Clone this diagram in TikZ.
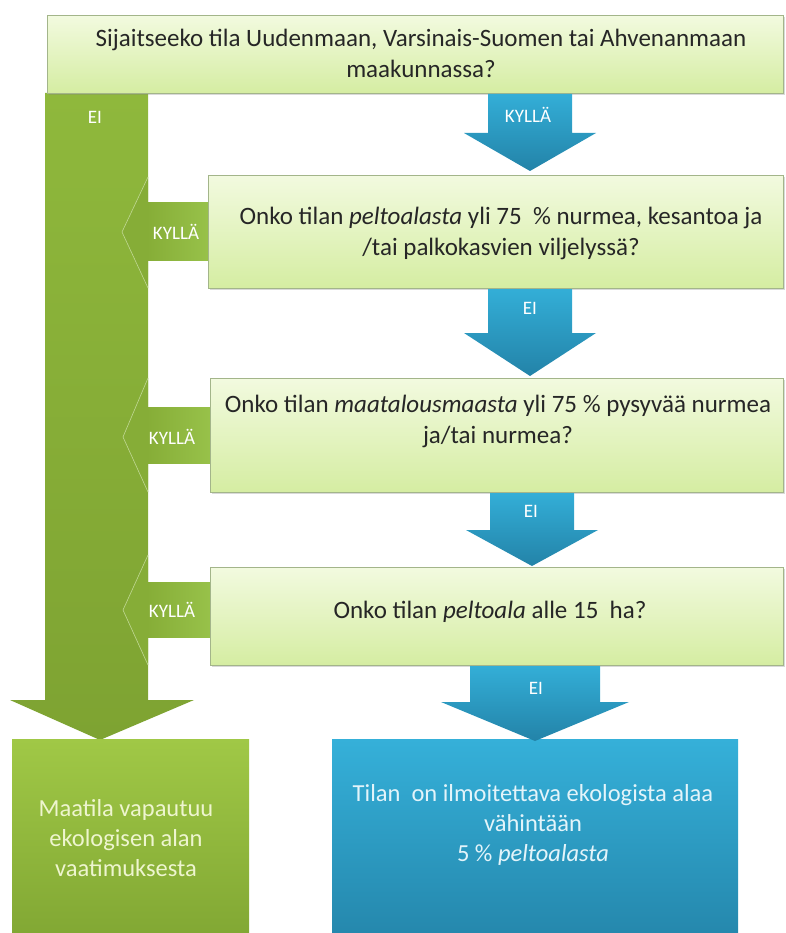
\documentclass[tikz,border=0pt]{standalone}
\usepackage{fontspec}
\setmainfont{Carlito}
\usetikzlibrary{shadows}
\definecolor{qtop}{HTML}{F2FADF}
\definecolor{qbot}{HTML}{D5EDA2}
\definecolor{qline}{HTML}{A3B58A}
\definecolor{gbar}{HTML}{8FB83C}
\definecolor{gbardk}{HTML}{7EA332}
\definecolor{gshaft}{HTML}{98C24A}
\definecolor{gchev}{HTML}{86AD37}
\definecolor{gtop}{HTML}{A0C846}
\definecolor{gbot}{HTML}{82A834}
\definecolor{btop}{HTML}{35B0D9}
\definecolor{bbot}{HTML}{2588AD}
\definecolor{atop}{HTML}{33AED7}
\definecolor{abot}{HTML}{2383A8}
\definecolor{qtext}{HTML}{262626}
\definecolor{gtext}{HTML}{EEF5CF}
\definecolor{btext}{HTML}{E3F4FA}
\tikzset{
  qbox/.style={draw=qline, line width=0.8pt, top color=qtop, bottom color=qbot,
     anchor=north west, inner sep=0pt,
     drop shadow={shadow xshift=1.5pt, shadow yshift=-2pt, opacity=0.3}},
  rbox/.style={anchor=north west, inner sep=0pt, draw=none},
  qtxt/.style={text=qtext, font=\fontsize{25}{31}\selectfont, align=center, inner sep=0pt},
  lbl/.style={text=white, font=\fontsize{19}{22}\selectfont, inner sep=0pt},
  rtxt/.style={font=\fontsize{24.5}{30}\selectfont, align=center, inner sep=0pt},
  bluearrow/.style={top color=atop, bottom color=abot, draw=none},
  greenbar/.style={top color=gbar, bottom color=gbardk, draw=none},
  gshaftst/.style={left color=gchev, right color=gshaft, draw=none},
  gchevst/.style={fill=gchev, draw=gbar!55!white, line width=0.6pt},
}
\begin{document}
\begin{tikzpicture}[x=1pt,y=-1pt]
\useasboundingbox (0,0) rectangle (785,933);
% green "EI" bar with arrow head
\path[greenbar] (45,93) -- (148,93) -- (148,700) -- (194,700) -- (100,740) -- (10,700) -- (45,700) -- cycle;
% KYLLA arrows into the bar
\path[gshaftst] (146,203) rectangle (210,260);
\path[gchevst] (148,177) -- (122,232) -- (148,288);
\path[gshaftst] (146,407) rectangle (212,463);
\path[gchevst] (148,378) -- (123,437) -- (148,492);
\path[gshaftst] (146,582) rectangle (212,637);
\path[gchevst] (148,555) -- (123,610) -- (148,665);
% result boxes
\node[rbox, top color=gtop, bottom color=gbot, minimum width=237pt, minimum height=194pt] (r1) at (12,739) {};
\node[rbox, top color=btop, bottom color=bbot, minimum width=406pt, minimum height=194pt] (r2) at (332,739) {};
% question boxes
\node[qbox, minimum width=736pt, minimum height=78pt] (q0) at (47,15) {};
\node[qbox, minimum width=575pt, minimum height=113pt] (q1) at (208,175) {};
\node[qbox, minimum width=573pt, minimum height=114pt] (q2) at (210,378) {};
\node[qbox, minimum width=573pt, minimum height=98pt] (q3) at (210,567) {};
% blue arrows
\path[bluearrow] (488,94) -- (572,94) -- (572,133) -- (596,133) -- (530,171) -- (464,133) -- (488,133) -- cycle;
\path[bluearrow] (488,289) -- (572,289) -- (572,333) -- (596,333) -- (530,376) -- (464,333) -- (488,333) -- cycle;
\path[bluearrow] (490,493) -- (574,493) -- (574,530) -- (598,530) -- (532,566) -- (466,530) -- (490,530) -- cycle;
\path[bluearrow] (470,666) -- (600,666) -- (600,702) -- (629,702) -- (535,741) -- (441,702) -- (470,702) -- cycle;
% texts
\node[qtxt] (t0) at (421,53) {Sijaitseeko tila Uudenmaan, Varsinais-Suomen tai Ahvenanmaan\\maakunnassa?};
\node[qtxt] (t1) at (501,233) {Onko tilan \textit{peltoalasta} yli 75\ \ \% nurmea, kesantoa ja\\/tai palkokasvien viljelyssä?};
\node[qtxt] (t2) at (498,421) {Onko tilan \textit{maatalousmaasta} yli 75 \% pysyvää nurmea\\ja/tai nurmea?};
\node[qtxt] (t3) at (490,612) {Onko tilan \textit{peltoala} alle 15\ \ ha?};
\node[rtxt, text=gtext] (t4) at (126,838) {Maatila vapautuu\\ekologisen alan\\vaatimuksesta};
\node[rtxt, text=btext] (t5) at (533,825) {Tilan\ \ on ilmoitettava ekologista alaa\\vähintään\\5 \% \textit{peltoalasta}};
% labels
\node[lbl] (l0) at (95,117) {EI};
\node[lbl] (l1) at (528,115) {KYLLÄ};
\node[lbl] (l2) at (176,232) {KYLLÄ};
\node[lbl] (l3) at (530,308) {EI};
\node[lbl] (l4) at (172,437) {KYLLÄ};
\node[lbl] (l5) at (531,511) {EI};
\node[lbl] (l6) at (172,610) {KYLLÄ};
\node[lbl] (l7) at (536,688) {EI};
\end{tikzpicture}
\end{document}
